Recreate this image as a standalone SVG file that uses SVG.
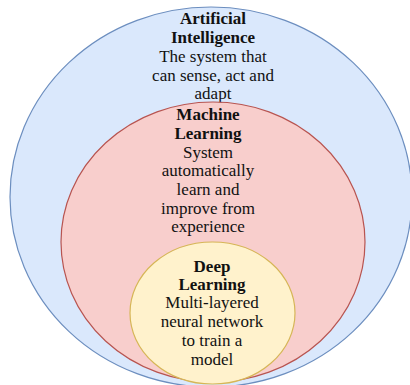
<svg xmlns="http://www.w3.org/2000/svg" width="410" height="385" viewBox="0 0 410 385">
  <style>
    .t { font-family: "Liberation Serif", "Times New Roman", serif; font-size: 17px; fill: #111; text-anchor: middle; }
    .b { font-weight: bold; }
  </style>
  <rect width="410" height="385" fill="#ffffff"/>
  <g id="ai">
    <ellipse cx="211" cy="197" rx="201" ry="190" fill="#dae8fc" stroke="#6c8ebf" stroke-width="1.2"/>
    <text class="t b" x="213" y="24">Artificial</text>
    <text class="t b" x="213" y="43">Intelligence</text>
    <text class="t" x="213" y="62">The system that</text>
    <text class="t" x="213" y="81">can sense, act and</text>
    <text class="t" x="213" y="99">adapt</text>
  </g>
  <g id="ml">
    <ellipse cx="213" cy="242" rx="152" ry="140" fill="#f8cecc" stroke="#b85450" stroke-width="1.2"/>
    <text class="t b" x="208" y="120">Machine</text>
    <text class="t b" x="208" y="139">Learning</text>
    <text class="t" x="208" y="158">System</text>
    <text class="t" x="208" y="176">automatically</text>
    <text class="t" x="208" y="195">learn and</text>
    <text class="t" x="208" y="214">improve from</text>
    <text class="t" x="208" y="232">experience</text>
  </g>
  <g id="dl">
    <ellipse cx="212.5" cy="313" rx="82.5" ry="71" fill="#fff2cc" stroke="#d6b656" stroke-width="1.2"/>
    <text class="t b" x="212" y="272">Deep</text>
    <text class="t b" x="212" y="290">Learning</text>
    <text class="t" x="212" y="308">Multi-layered</text>
    <text class="t" x="212" y="327">neural network</text>
    <text class="t" x="212" y="346">to train a</text>
    <text class="t" x="212" y="365">model</text>
  </g>
</svg>
